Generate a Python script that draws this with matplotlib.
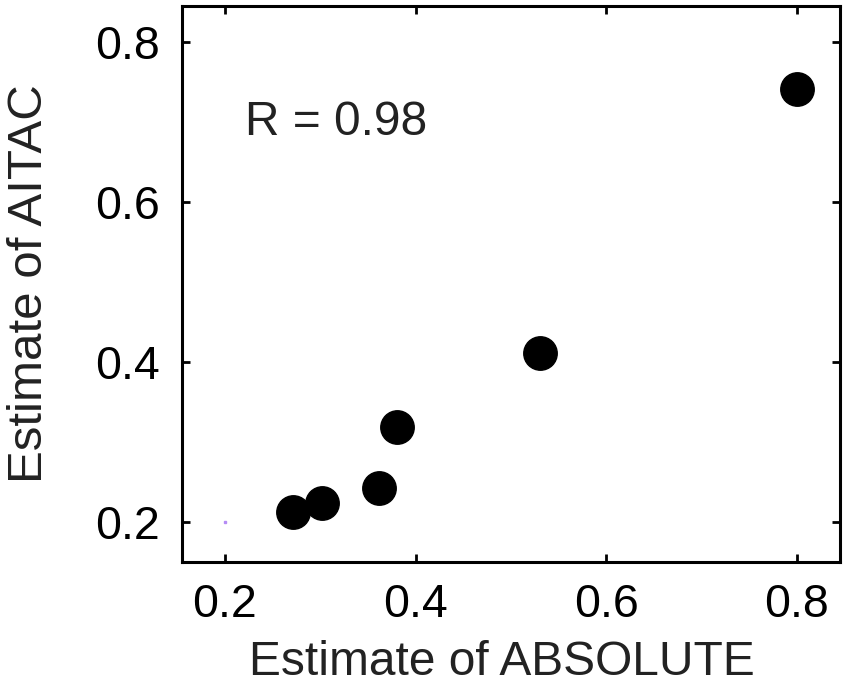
import matplotlib.pyplot as plt

plt.rcParams['font.family'] = ['Liberation Sans', 'DejaVu Sans']

# Estimates from the two methods
absolute_est = [0.80, 0.531, 0.381, 0.362, 0.302, 0.272]
aitac_est = [0.742, 0.411, 0.319, 0.242, 0.224, 0.212]
ticks = [0.2, 0.4, 0.6, 0.8]
tick_labels = ['0.2', '0.4', '0.6', '0.8']
r_value = 0.98

fig = plt.figure(figsize=(8.5, 6.86), dpi=100)
ax = fig.add_axes([0.214, 0.181, 0.774, 0.810])

ax.scatter(absolute_est, aitac_est, s=580, color='black', zorder=3)
# stray marker at origin of the tick grid
ax.plot([0.2], [0.2], marker='s', markersize=2, color='#b58cf5', linestyle='none')

ax.text(0.221, 0.684, 'R = {:.2f}'.format(r_value), fontsize=34.5,
        ha='left', va='baseline', color='#222222')

ax.set_xlim(0.155, 0.845)
ax.set_ylim(0.15, 0.845)
ax.set_xticks(ticks)
ax.set_xticklabels(tick_labels)
ax.set_yticks(ticks)
ax.set_yticklabels(tick_labels)
ax.tick_params(direction='in', length=6, width=2, labelsize=33.5,
               top=True, right=True, colors='black')
ax.tick_params(axis='x', pad=15)
ax.tick_params(axis='y', pad=16)
for spine in ax.spines.values():
    spine.set_linewidth(2.2)

ax.set_xlabel('Estimate of ABSOLUTE', fontsize=34.5, color='#222222')
ax.set_ylabel('Estimate of AITAC', fontsize=35.5, color='#222222', labelpad=31)
ax.xaxis.set_label_coords(0.486, -0.14)

fig.savefig('out.png', dpi=100)
